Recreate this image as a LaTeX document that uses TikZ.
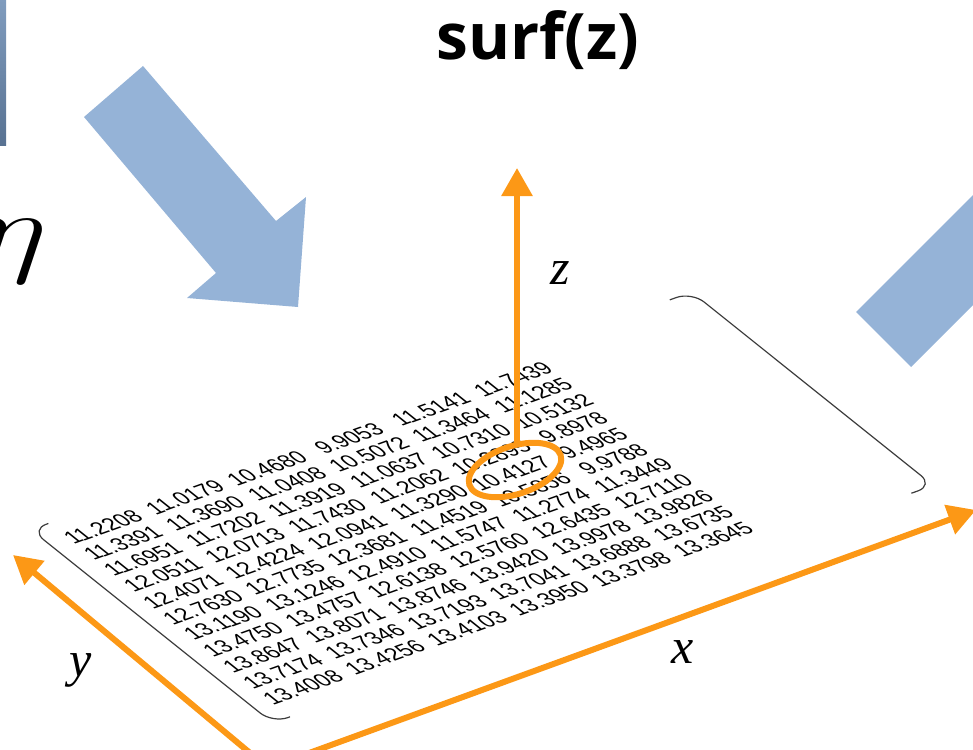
\documentclass[tikz,border=0pt]{standalone}
\usepackage{fontspec}
\usepackage{tikz}
\usetikzlibrary{arrows.meta, positioning, shapes.geometric, calc}
\newfontfamily\numfont{Liberation Sans}
\newfontfamily\axisfont{Liberation Serif}
\newfontfamily\titlefont{Open Sans}
\definecolor{axisorange}{RGB}{252,152,22}
\definecolor{arrowblue}{RGB}{149,179,215}
\definecolor{bardark}{RGB}{88,114,146}
\definecolor{barlight}{RGB}{128,156,190}
\definecolor{bracketgray}{RGB}{60,60,60}

\begin{document}
\begin{tikzpicture}[
  x=0.5pt, y=-0.5pt,
  axis/.style={-{Triangle[length=14pt, width=15pt]}, draw=axisorange, line width=3pt},
  entry/.style={font=\numfont\fontsize{11}{13}\selectfont, inner sep=0pt, transform shape},
  bracket/.style={draw=bracketgray, line width=0.6pt, rounded corners=8pt},
  bigarrow/.style={fill=arrowblue},
  lbl/.style={font=\axisfont\itshape\fontsize{25}{25}\selectfont, inner sep=0pt}
]
\useasboundingbox (0,0) rectangle (973,749);
\clip (0,0) rectangle (973,749);

% cut-off pieces of the neighbouring slide content
\shade[top color=barlight, bottom color=bardark] (0,0) rectangle (6,145);
\node[anchor=base west, inner sep=0pt, font=\fontsize{24.88}{25}\selectfont, xscale=2.7, yscale=2.05] (eta) at (-24,263) {$\eta$};

% blue block arrows
\fill[bigarrow] (143,66) -- (276,221) -- (306,197) -- (298,307) -- (187,298) -- (216,273) -- (84,117) -- cycle;
\fill[bigarrow] (856,312) -- (911,367) -- (1111,167) -- (1056,112) -- cycle;

\node[font=\titlefont\bfseries\fontsize{32}{32}\selectfont] (title) at (538,40) {surf(z)};

% the data matrix, laid flat in the x-y plane
\begin{scope}[shift={(103,527)}, cm={0.9111,0.3278,-0.8333,0.6667,(0,0)}, x=1pt, y=1pt]
  \foreach \row [count=\r from 0] in {
    {11.2208,11.0179,10.4680,9.9053,11.5141,11.7439},
    {11.3391,11.3690,11.0408,10.5072,11.3464,11.1285},
    {11.6951,11.7202,11.3919,11.0637,10.7310,10.5132},
    {12.0511,12.0713,11.7430,11.2062,10.2895,9.8978},
    {12.4071,12.4224,12.0941,11.3290,10.4127,9.4965},
    {12.7630,12.7735,12.3681,11.4519,10.5856,9.9788},
    {13.1190,13.1246,12.4910,11.5747,11.2774,11.3449},
    {13.4750,13.4757,12.6138,12.5760,12.6435,12.7110},
    {13.8647,13.8071,13.8746,13.9420,13.9978,13.9826},
    {13.7174,13.7346,13.7193,13.7041,13.6888,13.6735},
    {13.4008,13.4256,13.4103,13.3950,13.3798,13.3645}}{
    \foreach \val [count=\c from 0] in \row
      \node[entry] (m-\r-\c) at (45*\c, -12*\r) {\val};
  }
  \draw[bracket] (-19,12) -- (-28.5,12) -- (-28.5,-133) -- (-19,-133);
  \draw[bracket] (322,12) -- (334,12) -- (334,-133) -- (322,-133);
\end{scope}

% axes
\coordinate (O) at (268,768);
\coordinate (ytip) at (13,555);
\coordinate (xtip) at (976,510);
\coordinate (zbase) at (517,446);
\coordinate (ztip) at (517,168);
\node[draw=axisorange, line width=3pt, ellipse, minimum width=48pt, minimum height=24pt, inner sep=0pt, rotate=18] (pick) at (515,470) {};
\draw[axis] (O) -- (ytip);
\draw[axis] (O) -- (xtip);
\draw[axis] (zbase) -- (ztip);

\node[lbl] (zlbl) at (560,273) {z};
\node[lbl] (ylbl) at (81,670) {y};
\node[lbl] (xlbl) at (683,652) {x};

\end{tikzpicture}
\end{document}
